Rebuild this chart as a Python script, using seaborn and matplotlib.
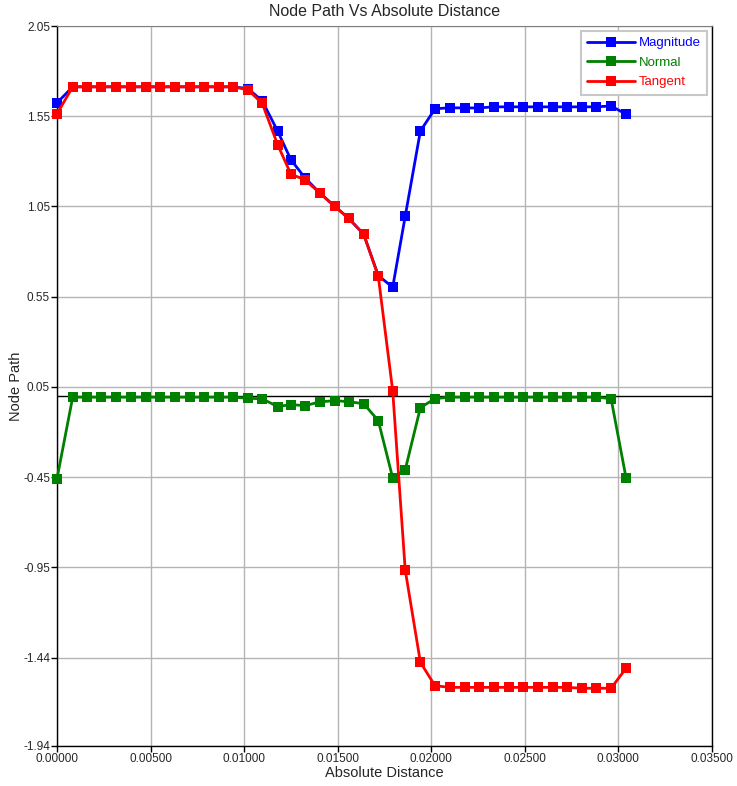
import numpy as np
import pandas as pd
import matplotlib
matplotlib.use("Agg")
import matplotlib.pyplot as plt
import seaborn as sns

# Data
distance = [0.00000, 0.00084, 0.00159, 0.00237, 0.00318, 0.00394, 0.00474, 0.00551,
            0.00629, 0.00710, 0.00786, 0.00865, 0.00943, 0.01021, 0.01097, 0.01179,
            0.01250, 0.01325, 0.01405, 0.01485, 0.01558, 0.01639, 0.01717, 0.01794,
            0.01861, 0.01942, 0.02020, 0.02098, 0.02179, 0.02253, 0.02334, 0.02414,
            0.02490, 0.02569, 0.02649, 0.02726, 0.02804, 0.02882, 0.02961, 0.03041]

magnitude = [1.624, 1.713, 1.713, 1.713, 1.713, 1.713, 1.713, 1.713,
             1.713, 1.713, 1.713, 1.713, 1.713, 1.703, 1.635, 1.468,
             1.309, 1.209, 1.124, 1.050, 0.985, 0.896, 0.667, 0.602,
             0.996, 1.468, 1.591, 1.597, 1.596, 1.596, 1.602, 1.602,
             1.602, 1.602, 1.602, 1.602, 1.602, 1.602, 1.607, 1.561]

normal = [-0.459, -0.007, -0.007, -0.007, -0.007, -0.007, -0.007, -0.007,
          -0.007, -0.007, -0.007, -0.007, -0.007, -0.013, -0.016, -0.059,
          -0.048, -0.054, -0.033, -0.026, -0.032, -0.043, -0.137, -0.454,
          -0.409, -0.065, -0.015, -0.007, -0.007, -0.007, -0.007, -0.007,
          -0.007, -0.007, -0.007, -0.007, -0.007, -0.007, -0.015, -0.454]

tangent = [1.563, 1.713, 1.713, 1.713, 1.713, 1.713, 1.713, 1.713,
           1.713, 1.713, 1.713, 1.713, 1.713, 1.696, 1.621, 1.393,
           1.229, 1.198, 1.124, 1.050, 0.985, 0.896, 0.663, 0.029,
           -0.965, -1.476, -1.606, -1.615, -1.615, -1.615, -1.615, -1.615,
           -1.615, -1.615, -1.615, -1.615, -1.620, -1.620, -1.620, -1.509]

series_names = ["Magnitude", "Normal", "Tangent"]
series_colors = ["#0000ff", "#008000", "#ff0000"]

x_ticks = [0.0, 0.005, 0.010, 0.015, 0.020, 0.025, 0.030, 0.035]
x_tick_labels = ["0.00000", "0.00500", "0.01000", "0.01500", "0.02000",
                 "0.02500", "0.03000", "0.03500"]
y_ticks = [2.05, 1.55, 1.05, 0.55, 0.05, -0.45, -0.95, -1.45, -1.94]
y_tick_labels = ["2.05", "1.55", "1.05", "0.55", "0.05", "-0.45", "-0.95", "-1.44", "-1.94"]

df = pd.DataFrame({"Absolute Distance": distance,
                   "Magnitude": magnitude, "Normal": normal, "Tangent": tangent})

sns.set_style("whitegrid")
plt.rcParams["font.family"] = ["Liberation Sans", "DejaVu Sans"]

fig = plt.figure(figsize=(7.37, 7.86), dpi=100)
ax = fig.add_axes([0.0773, 0.0509, 0.8887, 0.9160])

for name, col in zip(series_names, series_colors):
    sns.lineplot(data=df, x="Absolute Distance", y=name, ax=ax, color=col,
                 marker="s", markersize=7, markeredgewidth=0, linewidth=2,
                 estimator=None, label=name, clip_on=False, zorder=3)

ax.axhline(0, color="black", linewidth=1, zorder=2)

ax.set_xlim(0, 0.035)
ax.set_ylim(-1.94, 2.05)
ax.set_xticks(x_ticks)
ax.set_xticklabels(x_tick_labels, fontsize=8.5)
ax.set_yticks(y_ticks)
ax.set_yticklabels(y_tick_labels, fontsize=8.5)
ax.grid(True, color="#b4b4b4", linewidth=1)
ax.tick_params(axis="both", which="both", direction="out", length=4, width=1,
               color="black", pad=1, left=True, bottom=True)

for side in ["left", "bottom", "right"]:
    ax.spines[side].set_color("black")
    ax.spines[side].set_linewidth(1)
ax.spines["top"].set_color("#808080")

ax.set_title("Node Path Vs Absolute Distance", fontsize=11.5, pad=7)
ax.set_xlabel("Absolute Distance", fontsize=10.5, labelpad=1)
ax.set_ylabel("Node Path", fontsize=10.5, labelpad=0)

leg = ax.legend(loc="upper right", fontsize=9.5, fancybox=False, framealpha=1,
                edgecolor="#c8c8c8", borderpad=0.5, handlelength=3.6,
                handletextpad=0.3, labelspacing=0.55, borderaxespad=0.35)
leg.get_frame().set_linewidth(1.5)
for txt, col in zip(leg.get_texts(), series_colors):
    txt.set_color(col)

fig.savefig("out.png", dpi=100)
